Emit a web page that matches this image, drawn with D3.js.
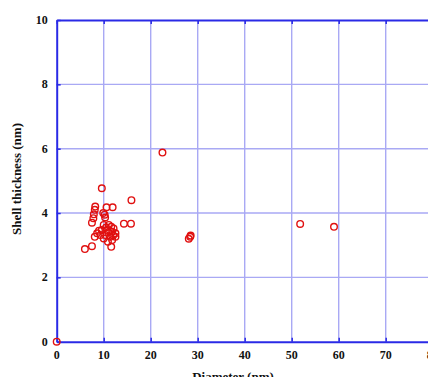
<!DOCTYPE html>
<html>
<head>
<meta charset="utf-8">
<script src="https://cdn.jsdelivr.net/npm/d3@7"></script>
<style>
  html, body { margin: 0; padding: 0; background: #fff; }
  svg { display: block; }
  .tick-label { font-family: "Liberation Serif", "Times New Roman", serif; font-weight: bold; font-size: 12px; fill: #111; }
  .axis-title { font-family: "Liberation Serif", "Times New Roman", serif; font-weight: bold; font-size: 13px; fill: #111; }
</style>
</head>
<body>
<svg id="chart" width="428" height="377"></svg>
<script>
// Particle diameter (nm) and measured shell thickness (nm)
const diameter = [
  0, 22.5, 9.6, 15.9, 28.5, 28.1, 28.4, 51.8, 59.0,
  14.3, 15.8, 10.6, 11.9, 8.2, 8.1, 7.9, 7.8, 7.5, 9.9, 10.2, 10.3,
  10.0, 11.1, 11.6, 12.1, 9.6, 10.7, 11.8, 12.5, 8.6, 9.3, 10.3, 11.4,
  12.5, 8.1, 10.0, 11.8, 10.9, 11.6, 6.0, 7.5, 9.0, 11.0, 12.0, 10.5
];
const thickness = [
  0, 5.88, 4.77, 4.40, 3.30, 3.20, 3.26, 3.66, 3.57,
  3.67, 3.67, 4.18, 4.18, 4.20, 4.10, 3.96, 3.84, 3.70, 4.00, 3.95, 3.86,
  3.63, 3.63, 3.57, 3.52, 3.47, 3.47, 3.42, 3.37, 3.37, 3.32, 3.32, 3.26,
  3.26, 3.26, 3.21, 3.16, 3.11, 2.95, 2.88, 2.97, 3.45, 3.40, 3.30, 3.55
];
const xTicks = [0, 10, 20, 30, 40, 50, 60, 70, 80];
const yTicks = [0, 2, 4, 6, 8, 10];
const xTitle = "Diameter (nm)";
const yTitle = "Shell thickness (nm)";

const svg = d3.select("#chart");
const padLeft = 56.7, padTop = 20, plotW = 376, plotH = 321.7;

const x = d3.scaleLinear().domain([0, 80]).range([padLeft, padLeft + plotW]);
const y = d3.scaleLinear().domain([0, 10]).range([padTop + plotH, padTop]);

const gridColor = "#a9a9f4";
const frameColor = "#2a2ae6";

// grid lines
const grid = svg.append("g");
grid.selectAll("line.gx").data(xTicks.slice(1, -1)).join("line")
  .attr("x1", d => x(d)).attr("x2", d => x(d))
  .attr("y1", y(10)).attr("y2", y(0))
  .attr("stroke", gridColor).attr("stroke-width", 1.4);
grid.selectAll("line.gy").data(yTicks.slice(1, -1)).join("line")
  .attr("x1", x(0)).attr("x2", x(80))
  .attr("y1", d => y(d)).attr("y2", d => y(d))
  .attr("stroke", gridColor).attr("stroke-width", 1.4);

// frame and inward ticks via axes
const axisB = d3.axisBottom(x).tickValues(xTicks).tickSizeInner(-4).tickSizeOuter(0).tickFormat("");
const axisT = d3.axisTop(x).tickValues(xTicks).tickSizeInner(-4).tickSizeOuter(0).tickFormat("");
const axisL = d3.axisLeft(y).tickValues(yTicks).tickSizeInner(-4).tickSizeOuter(0).tickFormat("");
const axisR = d3.axisRight(y).tickValues(yTicks).tickSizeInner(-4).tickSizeOuter(0).tickFormat("");

function styleAxis(g) {
  g.selectAll("path").attr("stroke", frameColor).attr("stroke-width", 2);
  g.selectAll("line").attr("stroke", frameColor).attr("stroke-width", 1.5);
}
svg.append("g").attr("transform", `translate(0,${y(0)})`).call(axisB).call(styleAxis);
svg.append("g").attr("transform", `translate(0,${y(10)})`).call(axisT).call(styleAxis);
svg.append("g").attr("transform", `translate(${x(0)},0)`).call(axisL).call(styleAxis);
svg.append("g").attr("transform", `translate(${x(80)},0)`).call(axisR).call(styleAxis);

// tick labels
svg.append("g").selectAll("text").data(xTicks).join("text")
  .attr("class", "tick-label")
  .attr("x", d => x(d)).attr("y", y(0) + 17)
  .attr("text-anchor", "middle")
  .text(d => d);
svg.append("g").selectAll("text").data(yTicks).join("text")
  .attr("class", "tick-label")
  .attr("x", x(0) - 9).attr("y", d => y(d) + 4)
  .attr("text-anchor", "end")
  .text(d => d);

// axis titles
svg.append("text").attr("class", "axis-title")
  .attr("x", 233).attr("y", 381)
  .attr("text-anchor", "middle").text(xTitle);
svg.append("text").attr("class", "axis-title")
  .attr("transform", `translate(21,179) rotate(-90)`)
  .attr("text-anchor", "middle").text(yTitle);

// data markers
svg.append("g").selectAll("circle").data(diameter.map((d, i) => [d, thickness[i]])).join("circle")
  .attr("cx", d => x(d[0])).attr("cy", d => y(d[1]))
  .attr("r", 3.3)
  .attr("fill", "none")
  .attr("stroke", "#e01010")
  .attr("stroke-width", 1.4);
</script>
</body>
</html>
